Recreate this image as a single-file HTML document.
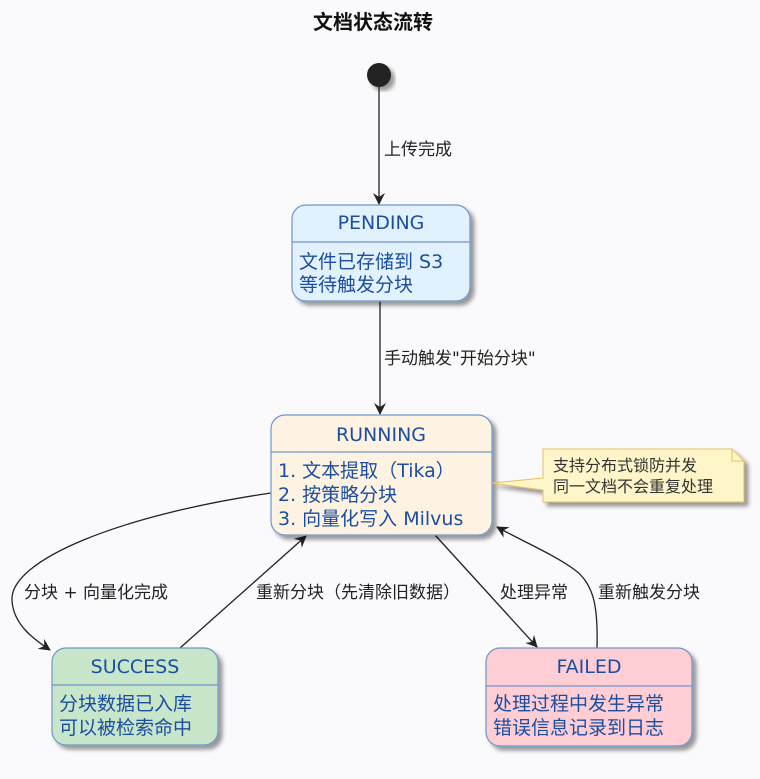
<!DOCTYPE html>
<html><head><meta charset="utf-8"><style>
html,body{margin:0;padding:0;background:#fafafc;}
svg{display:block;}
text{font-family:"DejaVu Sans","Liberation Sans","Noto Sans CJK SC",sans-serif;}
.t{fill:#1c4ea0;font-size:19px;}
.l{fill:#222;font-size:17px;}
</style></head><body>
<svg width="760" height="779" viewBox="0 0 760 779" xmlns="http://www.w3.org/2000/svg">
<defs>
<filter id="sh" x="-10%" y="-10%" width="130%" height="130%"><feGaussianBlur in="SourceAlpha" stdDeviation="2"/><feOffset dx="4" dy="4"/><feComponentTransfer><feFuncA type="linear" slope="0.4"/></feComponentTransfer><feMerge><feMergeNode/><feMergeNode in="SourceGraphic"/></feMerge></filter>
<marker id="ar" viewBox="0 0 12 12" refX="11" refY="6" markerWidth="12" markerHeight="12" orient="auto" markerUnits="userSpaceOnUse"><path d="M0,0 L12,6 L0,12 L4,6 Z" fill="#222"/></marker>
</defs>
<rect width="760" height="779" fill="#fafafc"/>
<text x="373" y="29" text-anchor="middle" style="font-size:20px;font-weight:bold;fill:#111">文档状态流转</text>
<circle cx="379" cy="75" r="12" fill="#222" filter="url(#sh)"/>
<g stroke="#222" stroke-width="1.3" fill="none">
<line x1="379" y1="87" x2="379" y2="204" marker-end="url(#ar)"/>
<line x1="380" y1="301" x2="380" y2="414" marker-end="url(#ar)"/>
<path d="M271,493 C120,515 10,560 12,600 C13,625 35,640 50,650" marker-end="url(#ar)"/>
<line x1="180" y1="648" x2="306" y2="536" marker-end="url(#ar)"/>
<line x1="435" y1="535" x2="537" y2="647" marker-end="url(#ar)"/>
<path d="M597,648 C598,610 595,585 575,570 C555,555 520,540 497,527" marker-end="url(#ar)"/>
</g>
<text class="l" x="384" y="155">上传完成</text>
<text class="l" x="384" y="364">手动触发"开始分块"</text>
<text class="l" x="24" y="598">分块 + 向量化完成</text>
<text class="l" x="256" y="598">重新分块（先清除旧数据）</text>
<text class="l" x="500" y="598">处理异常</text>
<text class="l" x="598" y="598">重新触发分块</text>
<g filter="url(#sh)">
<rect x="292" y="205" width="178" height="96" rx="14" fill="#e1f2fe" stroke="#6d96cc" stroke-width="1.2"/>
</g>
<line x1="292" y1="242" x2="470" y2="242" stroke="#6d96cc" stroke-width="1.2"/>
<text class="t" x="381" y="229" text-anchor="middle">PENDING</text>
<text class="t" x="299" y="268">文件已存储到 S3</text>
<text class="t" x="299" y="291">等待触发分块</text>
<g filter="url(#sh)">
<rect x="271" y="415" width="221" height="120" rx="14" fill="#fef3e2" stroke="#6d96cc" stroke-width="1.2"/>
</g>
<line x1="271" y1="452" x2="492" y2="452" stroke="#6d96cc" stroke-width="1.2"/>
<text class="t" x="381" y="441" text-anchor="middle">RUNNING</text>
<text class="t" x="278" y="477">1. 文本提取（Tika）</text>
<text class="t" x="278" y="501">2. 按策略分块</text>
<text class="t" x="278" y="525">3. 向量化写入 Milvus</text>
<g filter="url(#sh)">
<path d="M543,449 L732,449 L744,461 L744,502 L543,502 L543,490 L492,483 L543,478 Z" fill="#fef6c8" stroke="#e8c060" stroke-width="1"/>
</g>
<path d="M732,449 L732,461 L744,461" fill="none" stroke="#e8c060"/>
<text x="553" y="471" style="font-size:16px;fill:#333">支持分布式锁防并发</text>
<text x="553" y="492" style="font-size:16px;fill:#333">同一文档不会重复处理</text>
<g filter="url(#sh)">
<rect x="52" y="648" width="166" height="97" rx="14" fill="#c8e6c9" stroke="#6d96cc" stroke-width="1.2"/>
</g>
<line x1="52" y1="685" x2="218" y2="685" stroke="#6d96cc" stroke-width="1.2"/>
<text class="t" x="135" y="673" text-anchor="middle">SUCCESS</text>
<text class="t" x="59" y="710">分块数据已入库</text>
<text class="t" x="59" y="734">可以被检索命中</text>
<g filter="url(#sh)">
<rect x="486" y="648" width="206" height="98" rx="14" fill="#ffcdd4" stroke="#6d96cc" stroke-width="1.2"/>
</g>
<line x1="486" y1="686" x2="692" y2="686" stroke="#6d96cc" stroke-width="1.2"/>
<text class="t" x="589" y="673" text-anchor="middle">FAILED</text>
<text class="t" x="493" y="710">处理过程中发生异常</text>
<text class="t" x="493" y="734">错误信息记录到日志</text>
</svg>
</body></html>
